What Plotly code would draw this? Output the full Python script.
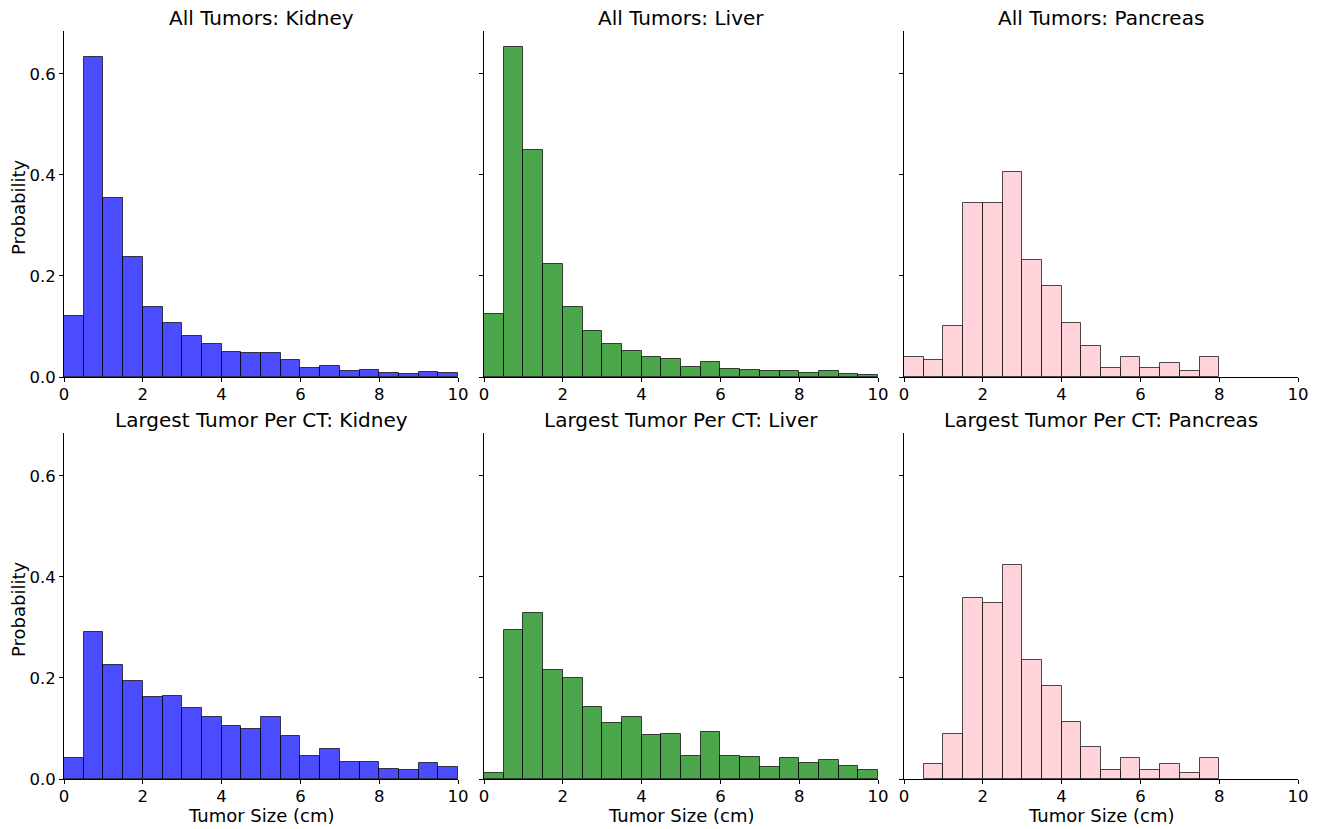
import plotly.graph_objects as go

# Histogram bins: 0.5 cm wide, 0 to 10 cm
bin_edges = [i * 0.5 for i in range(21)]
bin_centers = [(bin_edges[i] + bin_edges[i + 1]) / 2 for i in range(20)]

organs = ["Kidney", "Liver", "Pancreas"]
groups = ["All Tumors", "Largest Tumor Per CT"]

# Probability density per bin (None = empty bin)
all_kidney = [0.120, 0.633, 0.355, 0.237, 0.138, 0.106, 0.081, 0.065, 0.049, 0.047,
              0.047, 0.033, 0.018, 0.021, 0.011, 0.013, 0.007, 0.005, 0.010, 0.008]
all_liver = [0.124, 0.653, 0.450, 0.223, 0.138, 0.091, 0.066, 0.051, 0.039, 0.035,
             0.019, 0.030, 0.015, 0.014, 0.011, 0.011, 0.007, 0.011, 0.006, 0.003]
all_pancreas = [0.039, 0.034, 0.101, 0.344, 0.344, 0.406, 0.231, 0.180, 0.107, 0.062,
                0.017, 0.039, 0.017, 0.028, 0.012, 0.039, None, None, None, None]
largest_kidney = [0.041, 0.291, 0.226, 0.194, 0.162, 0.165, 0.141, 0.123, 0.104, 0.099,
                  0.122, 0.085, 0.045, 0.059, 0.034, 0.034, 0.020, 0.018, 0.031, 0.024]
largest_liver = [0.012, 0.295, 0.328, 0.216, 0.199, 0.143, 0.110, 0.122, 0.088, 0.090,
                 0.045, 0.093, 0.045, 0.043, 0.024, 0.041, 0.031, 0.038, 0.026, 0.017]
largest_pancreas = [None, 0.030, 0.089, 0.359, 0.348, 0.424, 0.236, 0.184, 0.112, 0.064,
                    0.018, 0.041, 0.018, 0.030, 0.012, 0.041, None, None, None, None]

series = [
    [all_kidney, all_liver, all_pancreas],
    [largest_kidney, largest_liver, largest_pancreas],
]
fill_colors = ["rgba(0,0,255,0.7)", "rgba(0,128,0,0.7)", "rgba(255,192,203,0.7)"]

x_ticks = [0, 2, 4, 6, 8, 10]
y_ticks = [0.0, 0.2, 0.4, 0.6]

W, H = 1320, 829
col_px = [(64, 458), (484, 878), (904, 1298)]
row_px = [(31, 377), (433, 779)]

fig = go.Figure()
font = "DejaVu Sans, sans-serif"


def label(text, x, y, size, angle=0):
    fig.add_annotation(
        text=text, x=x / W, y=1 - y / H, xref="paper", yref="paper",
        showarrow=False, xanchor="center", yanchor="middle", textangle=angle,
        font=dict(size=size, color="black", family=font),
    )


for r in range(2):
    for c in range(3):
        idx = r * 3 + c + 1
        xa = "x" if idx == 1 else f"x{idx}"
        ya = "y" if idx == 1 else f"y{idx}"
        fig.add_trace(go.Bar(
            x=bin_centers, y=series[r][c], width=0.5,
            marker=dict(color=fill_colors[c], line=dict(color="rgba(0,0,0,0.7)", width=1)),
            xaxis=xa, yaxis=ya, showlegend=False,
        ))
        x0, x1 = col_px[c]
        y0, y1 = row_px[r]
        xkey = "xaxis" if idx == 1 else f"xaxis{idx}"
        ykey = "yaxis" if idx == 1 else f"yaxis{idx}"
        fig.layout[xkey] = dict(
            domain=[x0 / W, x1 / W], range=[0, 10], anchor=ya, automargin=False,
            tickvals=x_ticks, ticks="outside", ticklen=4, tickcolor="black",
            ticklabelstandoff=-2,
            showline=True, linecolor="black", linewidth=1, showgrid=False, zeroline=False,
            tickfont=dict(size=16.5, color="black", family=font),
        )
        fig.layout[ykey] = dict(
            domain=[1 - y1 / H, 1 - y0 / H], range=[0, 0.685], anchor=xa, automargin=False,
            tickvals=y_ticks, tickformat=".1f", ticks="outside", ticklen=4, tickcolor="black",
            showticklabels=(c == 0),
            showline=True, linecolor="black", linewidth=1, showgrid=False, zeroline=False,
            tickfont=dict(size=16.5, color="black", family=font),
        )
        # subplot title
        label(f"{groups[r]}: {organs[c]}", (x0 + x1) / 2, y0 - 13, 20)
        if r == 1:
            label("Tumor Size (cm)", (x0 + x1) / 2, 815, 18)
        if c == 0:
            label("Probability", 18, (y0 + y1) / 2 + 4, 18, angle=-90)

fig.update_layout(
    width=W, height=H, margin=dict(l=0, r=0, t=0, b=0),
    plot_bgcolor="white", paper_bgcolor="white", bargap=0,
)

fig.write_html("out.html")
